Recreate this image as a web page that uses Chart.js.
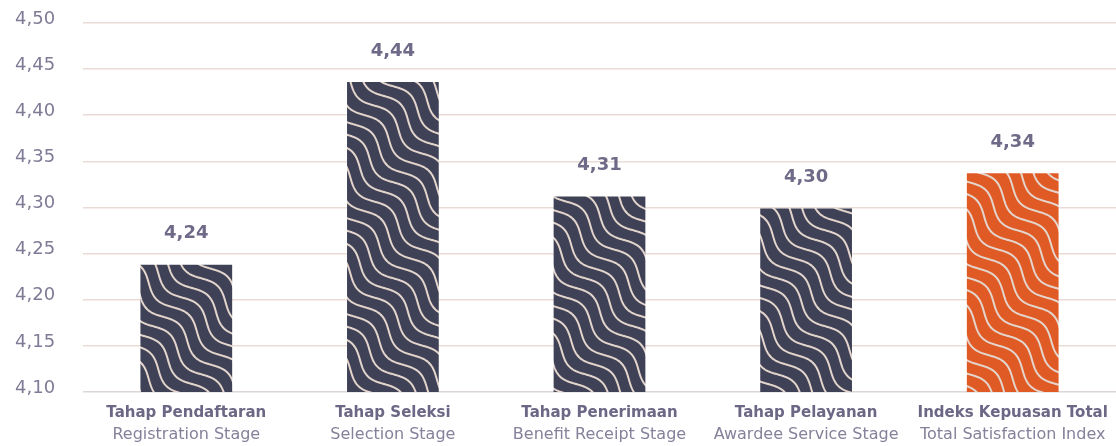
<!DOCTYPE html>
<html><head><meta charset="utf-8">
<script src="https://cdn.jsdelivr.net/npm/chart.js@4"></script>
<style>html,body{margin:0;padding:0;background:#fff}#wrap{width:1116px;height:446px}</style>
</head><body><div id="wrap"><canvas id="c" width="1116" height="446"></canvas></div>
<script>
const catMain = ["Tahap Pendaftaran","Tahap Seleksi","Tahap Penerimaan","Tahap Pelayanan","Indeks Kepuasan Total"];
const catSub = ["Registration Stage","Selection Stage","Benefit Receipt Stage","Awardee Service Stage","Total Satisfaction Index"];
const values = [4.238, 4.436, 4.312, 4.299, 4.337];
const yTicks = [4.10,4.15,4.20,4.25,4.30,4.35,4.40,4.45,4.50];
const barColors = ["#3f4257","#3f4257","#3f4257","#3f4257","#e05a26"];

function makePattern(bg){
  const L=48, D=9.6, T=2*L, c=document.createElement('canvas'); c.width=T; c.height=T;
  const g=c.getContext('2d'); g.fillStyle=bg; g.fillRect(0,0,T,T);
  g.strokeStyle='#e4d5cc'; g.lineWidth=2; g.lineCap='round';
  const A=6, s=Math.SQRT1_2;
  for(let k=-8;k<=8;k++){
    g.beginPath();
    for(let i=0;i<=400;i++){
      const u=-T+i*(3*T)/400;
      const o=A*Math.sin(2*Math.PI*u/L);
      const x=u+k*D+o*s, y=u-k*D-o*s;
      if(i===0) g.moveTo(x,y); else g.lineTo(x,y);
    }
    g.stroke();
  }
  return document.getElementById('c').getContext('2d').createPattern(c,'repeat');
}
const fmt=v=>v.toFixed(2).replace('.',',');
const F='"DejaVu Sans"';

const labelPlugin={id:'labels',afterDatasetsDraw(chart){
  const ctx=chart.ctx, meta=chart.getDatasetMeta(0), ys=chart.scales.y;
  ctx.save();
  ctx.textAlign='center'; ctx.textBaseline='middle';
  meta.data.forEach((b,i)=>{
    ctx.font='bold 18px '+F; ctx.fillStyle='#6e6a87';
    ctx.fillText(fmt(values[i]), b.x, b.y-31);
    ctx.font='bold 15px '+F; ctx.fillStyle='#6b6785';
    ctx.fillText(catMain[i], b.x, 413);
    ctx.font='16px '+F; ctx.fillStyle='#85819a';
    ctx.fillText(catSub[i], b.x, 435);
  });
  ctx.textAlign='left';
  ctx.font='18px '+F; ctx.fillStyle='#7f7b96';
  yTicks.forEach(v=>{ ctx.fillText(fmt(v), 15, ys.getPixelForValue(v)-4); });
  ctx.restore();
}};

new Chart(document.getElementById('c'),{
  type:'bar',
  data:{labels:catMain,datasets:[{data:values,backgroundColor:barColors.map(makePattern),borderWidth:0,
    barPercentage:0.444,categoryPercentage:1}]},
  options:{responsive:false,animation:false,
    layout:{padding:{left:83,top:23,bottom:54,right:0}},
    plugins:{legend:{display:false},tooltip:{enabled:false}},
    scales:{
      x:{display:false},
      y:{min:4.10,max:4.50,afterBuildTicks(s){s.ticks=yTicks.map(v=>({value:v}));},
        ticks:{display:false},
        grid:{color:c=>c.tick&&Math.abs(c.tick.value-4.10)<1e-6?'#dcd6d4':'#eadbd6',lineWidth:1.5,drawTicks:false},
        border:{display:false}}
    }},
  plugins:[labelPlugin]
});
</script></body></html>
